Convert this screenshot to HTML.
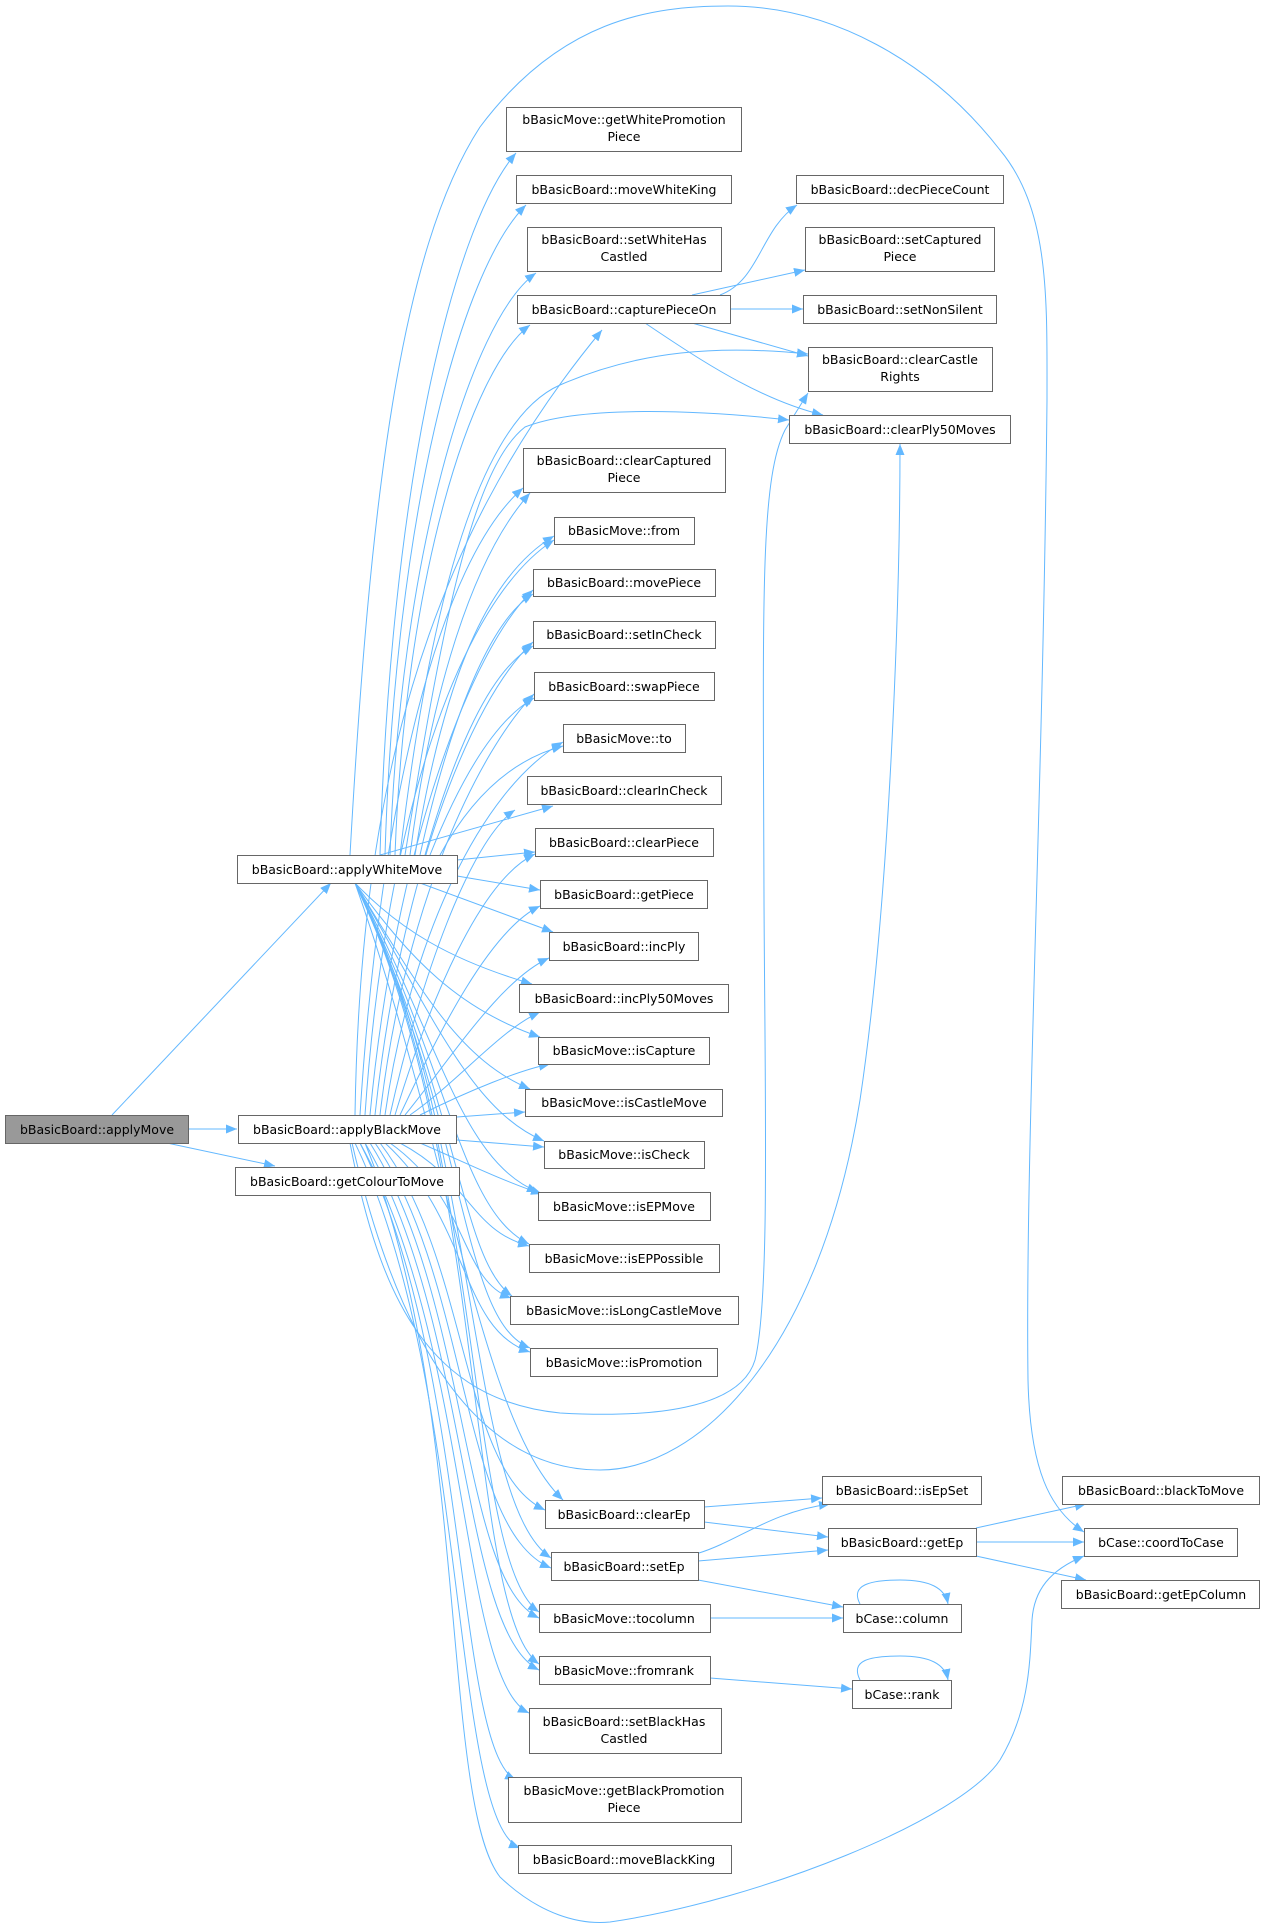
<!DOCTYPE html>
<html><head><meta charset="utf-8"><style>
html,body{margin:0;padding:0;background:#fff}
svg{display:block}
text{font-family:"DejaVu Sans","Liberation Sans",sans-serif;font-size:12.5px;fill:#000;text-anchor:middle}
.b{fill:#fff;stroke:#666;stroke-width:1}
.e{fill:none;stroke:#63b8ff;stroke-width:1}
</style></head><body>
<svg width="1261" height="1930" viewBox="0 0 1261 1930" xmlns="http://www.w3.org/2000/svg">
<defs><marker id="a" markerUnits="userSpaceOnUse" markerWidth="12" markerHeight="10" refX="11" refY="4.5" orient="auto"><path d="M0,0 L11,4.5 L0,9 z" fill="#63b8ff"/></marker></defs>
<g class="e" marker-end="url(#a)">
<path d="M112 1115 L331 883"/>
<path d="M188 1129 L237 1129"/>
<path d="M167 1143 L275 1166"/>
<path d="M380 855 C390 500 450 230 516 153"/>
<path d="M385 855 C395 520 460 270 526 205"/>
<path d="M390 855 C400 560 470 320 536 273"/>
<path d="M395 855 C405 580 470 370 530 325"/>
<path d="M400 855 C430 600 480 420 560 385 C640 350 720 345 808 354"/>
<path d="M405 855 C440 640 470 470 525 427 C580 405 700 410 789 420"/>
<path d="M410 855 C430 700 470 560 530 493"/>
<path d="M415 855 C440 700 480 580 554 536"/>
<path d="M420 855 C450 720 490 620 533 594"/>
<path d="M425 855 C455 750 490 670 533 646"/>
<path d="M430 855 C460 780 495 720 534 698"/>
<path d="M440 855 C470 800 510 760 563 746"/>
<path d="M380 855 L553 806"/>
<path d="M457 860 L535 852"/>
<path d="M457 876 L540 890"/>
<path d="M420 883 L553 932"/>
<path d="M355 883 C400 930 450 960 532 984"/>
<path d="M355 883 C410 960 460 1010 540 1037"/>
<path d="M355 883 C420 990 460 1060 530 1089"/>
<path d="M355 883 C430 1010 470 1110 544 1141"/>
<path d="M355 883 C440 1040 460 1160 538 1192"/>
<path d="M355 883 C450 1070 460 1210 529 1244"/>
<path d="M355 883 C460 1100 460 1260 512 1296"/>
<path d="M355 883 C470 1130 460 1320 530 1348"/>
<path d="M355 883 C450 1150 480 1420 563 1500"/>
<path d="M355 883 C480 1120 465 1500 551 1558"/>
<path d="M355 883 C485 1140 465 1560 539 1612"/>
<path d="M355 883 C490 1160 465 1610 539 1664"/>
<path d="M350 855 C370 500 400 250 480 127 C560 20 650 6 728 6 C830 6 930 60 1000 150 C1050 210 1047 300 1047 400 C1043 800 1025 1150 1028 1380 C1030 1470 1050 1510 1084 1532"/>
<path d="M355 1115 C360 800 420 550 602 330"/>
<path d="M360 1115 C380 800 440 560 523 488"/>
<path d="M365 1115 C385 820 460 600 554 540"/>
<path d="M370 1115 C395 850 470 650 533 590"/>
<path d="M375 1115 C400 880 470 700 533 642"/>
<path d="M380 1115 C405 900 480 750 534 694"/>
<path d="M385 1115 C410 940 480 790 563 742"/>
<path d="M390 1115 C420 980 470 840 515 810"/>
<path d="M395 1115 C430 1000 480 880 535 854"/>
<path d="M400 1115 C440 1030 490 930 540 906"/>
<path d="M405 1115 C450 1060 500 980 549 958"/>
<path d="M410 1115 C460 1080 500 1030 540 1012"/>
<path d="M420 1115 C470 1090 520 1070 550 1064"/>
<path d="M457 1117 L525 1112"/>
<path d="M457 1140 L544 1147"/>
<path d="M420 1143 C460 1160 500 1180 542 1194"/>
<path d="M400 1143 C470 1180 470 1230 529 1246"/>
<path d="M390 1143 C470 1200 460 1280 511 1298"/>
<path d="M385 1143 C470 1220 460 1330 530 1352"/>
<path d="M380 1143 C470 1260 460 1470 545 1510"/>
<path d="M375 1143 C470 1280 460 1530 551 1568"/>
<path d="M370 1143 C470 1300 460 1580 539 1618"/>
<path d="M365 1143 C470 1320 460 1630 539 1670"/>
<path d="M360 1143 C470 1340 460 1680 529 1713"/>
<path d="M360 1143 C470 1360 455 1750 516 1780"/>
<path d="M355 1143 C470 1380 450 1820 520 1848"/>
<path d="M350 1143 C380 1300 430 1400 560 1413 C650 1418 740 1410 755 1360 C770 1300 765 1100 764 900 C763 600 760 480 785 430 L808 393"/>
<path d="M352 1143 C400 1350 480 1470 600 1470 C700 1470 820 1350 860 1100 C890 900 900 600 900 444"/>
<path d="M365 1143 C470 1400 440 1800 500 1877 C540 1915 580 1925 610 1922 C760 1900 960 1820 1000 1760 C1030 1710 1030 1660 1032 1620 C1034 1590 1050 1570 1084 1556"/>
<path d="M720 295 C760 280 760 230 797 205"/>
<path d="M692 295 L805 270"/>
<path d="M730 309 L803 309"/>
<path d="M692 323 L808 356"/>
<path d="M645 323 C700 360 760 400 823 415"/>
<path d="M704 1507 L822 1498"/>
<path d="M704 1522 L828 1537"/>
<path d="M699 1553 C740 1540 770 1512 830 1504"/>
<path d="M698 1561 L828 1550"/>
<path d="M698 1580 L843 1607"/>
<path d="M710 1618 L843 1618"/>
<path d="M710 1678 L852 1689"/>
<path d="M976 1528 L1086 1504"/>
<path d="M976 1542 L1084 1542"/>
<path d="M976 1556 L1086 1580"/>
<path d="M860 1604 C850 1585 870 1580 900 1580 C930 1580 945 1588 948 1604"/>
<path d="M860 1680 C850 1660 870 1656 900 1656 C930 1656 945 1664 948 1680"/>
</g>
<g>
<rect class="b" x="5.5" y="1115.5" width="183" height="28" style="fill:#999"/><text x="97" y="1134">bBasicBoard::applyMove</text>
<rect class="b" x="237.5" y="855.5" width="220" height="28"/><text x="347" y="874">bBasicBoard::applyWhiteMove</text>
<rect class="b" x="238.5" y="1115.5" width="218" height="28"/><text x="347" y="1134">bBasicBoard::applyBlackMove</text>
<rect class="b" x="235.5" y="1167.5" width="224" height="28"/><text x="347" y="1186">bBasicBoard::getColourToMove</text>
<rect class="b" x="506.5" y="107.5" width="235" height="44"/><text x="624" y="124">bBasicMove::getWhitePromotion</text><text x="624" y="141">Piece</text>
<rect class="b" x="516.5" y="175.5" width="215" height="28"/><text x="624" y="194">bBasicBoard::moveWhiteKing</text>
<rect class="b" x="527.5" y="227.5" width="194" height="44"/><text x="624" y="244">bBasicBoard::setWhiteHas</text><text x="624" y="261">Castled</text>
<rect class="b" x="517.5" y="295.5" width="213" height="28"/><text x="624" y="314">bBasicBoard::capturePieceOn</text>
<rect class="b" x="523.5" y="448.5" width="202" height="44"/><text x="624" y="465">bBasicBoard::clearCaptured</text><text x="624" y="482">Piece</text>
<rect class="b" x="554.5" y="517.5" width="140" height="27"/><text x="624" y="535">bBasicMove::from</text>
<rect class="b" x="533.5" y="569.5" width="182" height="27"/><text x="624" y="587">bBasicBoard::movePiece</text>
<rect class="b" x="533.5" y="621.5" width="182" height="27"/><text x="624" y="639">bBasicBoard::setInCheck</text>
<rect class="b" x="534.5" y="672.5" width="180" height="28"/><text x="624" y="691">bBasicBoard::swapPiece</text>
<rect class="b" x="563.5" y="724.5" width="122" height="28"/><text x="624" y="743">bBasicMove::to</text>
<rect class="b" x="527.5" y="776.5" width="194" height="28"/><text x="624" y="795">bBasicBoard::clearInCheck</text>
<rect class="b" x="535.5" y="828.5" width="178" height="28"/><text x="624" y="847">bBasicBoard::clearPiece</text>
<rect class="b" x="540.5" y="880.5" width="167" height="28"/><text x="624" y="899">bBasicBoard::getPiece</text>
<rect class="b" x="549.5" y="932.5" width="149" height="28"/><text x="624" y="951">bBasicBoard::incPly</text>
<rect class="b" x="519.5" y="984.5" width="209" height="28"/><text x="624" y="1003">bBasicBoard::incPly50Moves</text>
<rect class="b" x="538.5" y="1037.5" width="171" height="27"/><text x="624" y="1055">bBasicMove::isCapture</text>
<rect class="b" x="525.5" y="1089.5" width="197" height="27"/><text x="624" y="1107">bBasicMove::isCastleMove</text>
<rect class="b" x="544.5" y="1141.5" width="160" height="27"/><text x="624" y="1159">bBasicMove::isCheck</text>
<rect class="b" x="538.5" y="1192.5" width="172" height="28"/><text x="624" y="1211">bBasicMove::isEPMove</text>
<rect class="b" x="529.5" y="1244.5" width="190" height="28"/><text x="624" y="1263">bBasicMove::isEPPossible</text>
<rect class="b" x="510.5" y="1296.5" width="228" height="28"/><text x="624" y="1315">bBasicMove::isLongCastleMove</text>
<rect class="b" x="530.5" y="1348.5" width="187" height="28"/><text x="624" y="1367">bBasicMove::isPromotion</text>
<rect class="b" x="545.5" y="1500.5" width="159" height="28"/><text x="624" y="1519">bBasicBoard::clearEp</text>
<rect class="b" x="551.5" y="1552.5" width="147" height="28"/><text x="624" y="1571">bBasicBoard::setEp</text>
<rect class="b" x="539.5" y="1604.5" width="171" height="28"/><text x="624" y="1623">bBasicMove::tocolumn</text>
<rect class="b" x="539.5" y="1656.5" width="171" height="28"/><text x="624" y="1675">bBasicMove::fromrank</text>
<rect class="b" x="529.5" y="1708.5" width="192" height="45"/><text x="624" y="1726">bBasicBoard::setBlackHas</text><text x="624" y="1743">Castled</text>
<rect class="b" x="508.5" y="1777.5" width="233" height="45"/><text x="624" y="1795">bBasicMove::getBlackPromotion</text><text x="624" y="1812">Piece</text>
<rect class="b" x="518.5" y="1845.5" width="213" height="28"/><text x="624" y="1864">bBasicBoard::moveBlackKing</text>
<rect class="b" x="796.5" y="175.5" width="207" height="28"/><text x="900" y="194">bBasicBoard::decPieceCount</text>
<rect class="b" x="805.5" y="227.5" width="189" height="44"/><text x="900" y="244">bBasicBoard::setCaptured</text><text x="900" y="261">Piece</text>
<rect class="b" x="803.5" y="295.5" width="193" height="28"/><text x="900" y="314">bBasicBoard::setNonSilent</text>
<rect class="b" x="808.5" y="347.5" width="184" height="44"/><text x="900" y="364">bBasicBoard::clearCastle</text><text x="900" y="381">Rights</text>
<rect class="b" x="789.5" y="415.5" width="221" height="28"/><text x="900" y="434">bBasicBoard::clearPly50Moves</text>
<rect class="b" x="822.5" y="1476.5" width="159" height="28"/><text x="902" y="1495">bBasicBoard::isEpSet</text>
<rect class="b" x="828.5" y="1528.5" width="148" height="28"/><text x="902" y="1547">bBasicBoard::getEp</text>
<rect class="b" x="843.5" y="1604.5" width="118" height="28"/><text x="902" y="1623">bCase::column</text>
<rect class="b" x="852.5" y="1680.5" width="99" height="28"/><text x="902" y="1699">bCase::rank</text>
<rect class="b" x="1062.5" y="1476.5" width="197" height="28"/><text x="1161" y="1495">bBasicBoard::blackToMove</text>
<rect class="b" x="1084.5" y="1528.5" width="153" height="28"/><text x="1161" y="1547">bCase::coordToCase</text>
<rect class="b" x="1061.5" y="1580.5" width="198" height="28"/><text x="1161" y="1599">bBasicBoard::getEpColumn</text>
</g>
</svg>
</body></html>
